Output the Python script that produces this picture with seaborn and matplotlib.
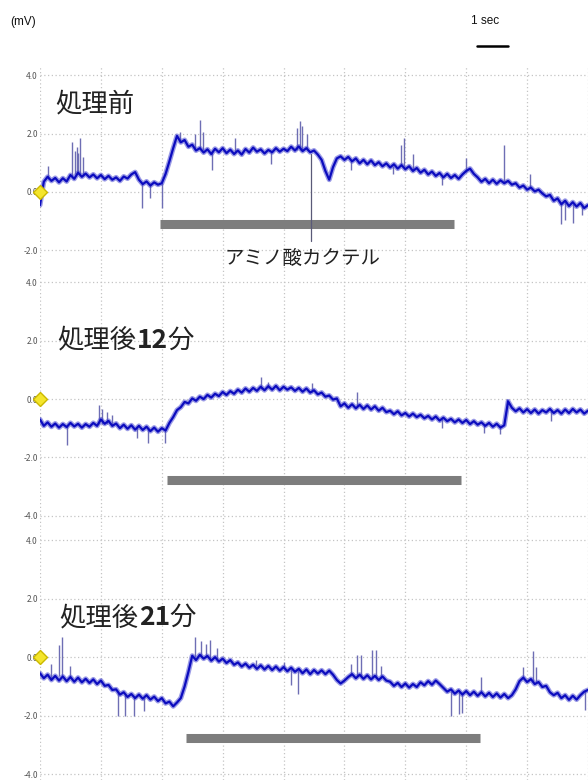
"""アミノ酸カクテル刺激に対する膜電位記録 (処理前 / 処理後12分 / 処理後21分)。"""

import matplotlib.pyplot as plt
import numpy as np
import pandas as pd
import seaborn as sns
from matplotlib.offsetbox import AnnotationBbox, HPacker, TextArea

sns.set_style("white")
plt.rcParams["font.family"] = ["Noto Sans CJK JP", "DejaVu Sans"]

# sample times (s), one value every 0.125 s
time_s = np.arange(145) * 0.125

pre_mv = [
    -0.45, 0.35, 0.52, 0.38, 0.48, 0.33, 0.47, 0.36, 0.58, 0.45, 0.66, 0.52, 0.63, 0.50, 0.60, 0.47,
    0.58, 0.44, 0.55, 0.42, 0.50, 0.38, 0.53, 0.46, 0.60, 0.68, 0.42, 0.27, 0.36, 0.22, 0.33, 0.25,
    0.30, 0.62, 1.05, 1.50, 1.92, 1.70, 1.78, 1.55, 1.62, 1.42, 1.50, 1.35, 1.46, 1.30, 1.48, 1.36,
    1.50, 1.33, 1.45, 1.30, 1.42, 1.28, 1.47, 1.35, 1.52, 1.38, 1.46, 1.32, 1.44, 1.36, 1.50, 1.38,
    1.48, 1.40, 1.55, 1.42, 1.56, 1.40, 1.50, 1.36, 1.42, 1.28, 1.10, 0.72, 0.42, 0.85, 1.15, 1.22,
    1.10, 1.20, 1.05, 1.15, 0.98, 1.10, 0.95, 1.08, 0.92, 1.02, 0.88, 0.98, 0.84, 0.95, 0.80, 0.92,
    0.78, 0.88, 0.72, 0.82, 0.66, 0.76, 0.60, 0.70, 0.55, 0.65, 0.50, 0.62, 0.48, 0.58, 0.45, 0.60,
    0.72, 0.80, 0.62, 0.50, 0.35, 0.45, 0.30, 0.42, 0.28, 0.40, 0.30, 0.38, 0.25, 0.30, 0.15, 0.22,
    0.08, 0.15, 0.02, 0.08, -0.05, -0.15, -0.10, -0.30, -0.22, -0.42, -0.30, -0.48, -0.35, -0.50,
    -0.38, -0.55, -0.45,
]
after12_mv = [
    -0.70, -0.92, -0.80, -0.95, -0.84, -0.98, -0.86, -0.96, -0.82, -0.94, -0.85, -0.98, -0.86, -0.95,
    -0.82, -0.92, -0.70, -0.85, -0.75, -0.92, -0.84, -1.00, -0.88, -1.02, -0.90, -1.05, -0.92, -1.06,
    -0.95, -1.10, -0.98, -1.12, -1.00, -1.08, -0.82, -0.62, -0.38, -0.28, -0.10, -0.15, 0.02, -0.06,
    0.08, 0.00, 0.14, 0.05, 0.18, 0.10, 0.24, 0.14, 0.27, 0.18, 0.32, 0.22, 0.36, 0.25, 0.38, 0.28,
    0.42, 0.30, 0.44, 0.32, 0.45, 0.30, 0.42, 0.32, 0.40, 0.28, 0.38, 0.25, 0.36, 0.22, 0.30, 0.16,
    0.22, 0.08, 0.12, -0.02, 0.02, -0.25, -0.15, -0.30, -0.18, -0.32, -0.20, -0.34, -0.22, -0.36,
    -0.25, -0.40, -0.30, -0.45, -0.40, -0.52, -0.42, -0.56, -0.48, -0.60, -0.50, -0.62, -0.54, -0.66,
    -0.58, -0.70, -0.60, -0.74, -0.64, -0.76, -0.68, -0.80, -0.70, -0.82, -0.72, -0.86, -0.76, -0.88,
    -0.80, -0.92, -0.82, -0.95, -0.85, -0.98, -0.90, -0.08, -0.30, -0.42, -0.32, -0.46, -0.35, -0.48,
    -0.36, -0.50, -0.38, -0.46, -0.34, -0.48, -0.38, -0.50, -0.36, -0.48, -0.34, -0.46, -0.36, -0.50,
    -0.40,
]
after21_mv = [
    -0.55, -0.72, -0.60, -0.78, -0.64, -0.80, -0.66, -0.82, -0.68, -0.84, -0.70, -0.86, -0.74, -0.88,
    -0.76, -0.92, -0.80, -0.98, -0.95, -1.12, -1.10, -1.28, -1.20, -1.36, -1.26, -1.40, -1.28, -1.42,
    -1.30, -1.45, -1.35, -1.50, -1.40, -1.58, -1.52, -1.68, -1.55, -1.40, -1.00, -0.50, 0.05, -0.10,
    0.08, -0.05, 0.04, -0.12, 0.00, -0.15, -0.05, -0.20, -0.10, -0.26, -0.18, -0.32, -0.22, -0.36,
    -0.26, -0.40, -0.28, -0.42, -0.30, -0.44, -0.32, -0.46, -0.34, -0.48, -0.36, -0.50, -0.40, -0.55,
    -0.42, -0.58, -0.44, -0.56, -0.45, -0.58, -0.46, -0.60, -0.78, -0.90, -0.80, -0.68, -0.58, -0.72,
    -0.60, -0.74, -0.62, -0.76, -0.64, -0.78, -0.66, -0.80, -0.84, -0.98, -0.88, -1.02, -0.90, -1.04,
    -0.92, -1.02, -0.86, -0.96, -0.82, -0.94, -0.80, -0.92, -1.05, -1.18, -1.10, -1.25, -1.14, -1.28,
    -1.16, -1.30, -1.18, -1.32, -1.20, -1.34, -1.22, -1.36, -1.24, -1.38, -1.26, -1.40, -1.30, -1.10,
    -0.82, -0.70, -0.85, -0.75, -0.92, -0.85, -1.02, -0.98, -1.20, -1.30, -1.22, -1.40, -1.30, -1.46,
    -1.32, -1.45, -1.30, -1.18, -1.12,
]

# isolated spikes: time (s), trace level, tip (mV)
pre_spike_t = [0.25, 1.05, 1.15, 1.2, 1.25, 1.32, 1.42, 3.35, 3.6, 4.02, 4.6, 5.1, 5.25, 5.35, 5.65,
               6.4, 7.6, 8.45, 8.55, 8.62, 8.78, 10.2, 11.6, 11.85, 11.95, 12.25, 13.2, 14.0, 15.25,
               16.1, 17.1, 17.25, 17.5, 17.8]
pre_spike_base = [0.45, 0.55, 0.6, 0.6, 0.6, 0.6, 0.55, 0.3, 0.3, 0.3, 1.7, 1.5, 1.5, 1.45, 1.4,
                  1.35, 1.4, 1.45, 1.45, 1.45, 1.45, 1.1, 0.9, 0.9, 0.9, 0.75, 0.55, 0.7, 0.35,
                  0.15, -0.35, -0.35, -0.4, -0.4]
pre_spike_tip = [0.9, 1.7, 1.4, 1.55, 1.35, 1.85, 1.2, -0.55, -0.2, -0.55, 2.05, 2.0, 2.47, 2.05, 0.75,
                 1.85, 0.95, 2.2, 2.42, 2.25, 2.0, 0.75, 0.6, 1.6, 1.85, 1.3, 0.25, 1.15, 1.6,
                 0.6, -1.1, -0.95, -1.05, -0.8]

after12_spike_t = [0.9, 1.95, 2.05, 2.2, 2.35, 3.2, 3.55, 4.12, 7.25, 7.5, 8.95, 10.4, 13.2, 14.6,
                   15.1, 15.35, 16.8]
after12_spike_base = [-0.9, -0.85, -0.85, -0.85, -0.9, -0.95, -1.0, -1.05, 0.35, 0.38, 0.25, -0.25,
                      -0.7, -0.85, -0.9, -0.3, -0.4]
after12_spike_tip = [-1.57, -0.2, -0.35, -0.45, -0.55, -1.35, -1.5, -1.5, 0.75, 0.6, 0.55, 0.24,
                     -1.0, -1.15, -1.2, 0.0, -0.75]

after21_spike_t = [0.35, 0.62, 0.72, 1.0, 2.55, 2.8, 3.1, 3.4, 5.1, 5.3, 5.45, 5.6, 5.8, 7.1, 8.0,
                   8.25, 8.46, 10.2, 10.4, 10.55, 10.9, 11.05, 11.2, 13.5, 13.75, 13.85, 14.5,
                   15.85, 16.2, 16.3, 17.9]
after21_spike_base = [-0.7, -0.65, -0.65, -0.7, -1.2, -1.3, -1.35, -1.4, 0.0, 0.0, 0.0, -0.05, -0.05,
                      -0.3, -0.35, -0.4, -0.45, -0.65, -0.65, -0.65, -0.7, -0.7, -0.7, -1.15, -1.2,
                      -1.2, -1.2, -0.75, -0.85, -0.85, -1.15]
after21_spike_tip = [-0.24, 0.4, 0.68, -0.3, -2.0, -2.0, -2.0, -1.85, 0.68, 0.55, 0.45, 0.6, 0.3,
                     -0.1, -0.15, -0.96, -1.26, -0.24, 0.07, 0.07, 0.24, 0.24, -0.3, -2.0, -1.95,
                     -1.9, -0.68, -0.34, 0.2, -0.34, -1.8]

# stimulus bars (アミノ酸カクテル application)
bar_start_s = [3.93, 4.16, 4.79]
bar_end_s = [13.61, 13.84, 14.46]
bar_level_mv = [-1.1, -2.77, -2.76]

title_parts = [
    [("処理前", "normal")],
    [("処理後", "normal"), ("12", "bold"), ("分", "normal")],
    [("処理後", "normal"), ("21", "bold"), ("分", "normal")],
]
title_pos = [(0.49, 3.0), (0.58, 2.02), (0.64, 1.35)]

traces = [pre_mv, after12_mv, after21_mv]
spikes = [
    (pre_spike_t, pre_spike_base, pre_spike_tip),
    (after12_spike_t, after12_spike_base, after12_spike_tip),
    (after21_spike_t, after21_spike_base, after21_spike_tip),
]
yticks = [[4, 2, 0, -2], [4, 2, 0, -2, -4], [4, 2, 0, -2, -4]]

W, H = 588, 780
# (top px, bottom px) and y limits of each panel
panel_px = [(67, 279), (280, 530), (532, 780)]
panel_ylim = [(-2.98, 4.28), (-4.49, 4.08), (-4.2, 4.28)]

fig = plt.figure(figsize=(W / 100, H / 100), dpi=100, facecolor="white")

axes = []
for i in range(3):
    top, bottom = panel_px[i]
    ax = fig.add_axes([40 / W, 1 - bottom / H, 548 / W, (bottom - top) / H])
    axes.append(ax)

    ax.vlines(spikes[i][0], spikes[i][1], spikes[i][2], color="#6e6eb4", linewidth=1.0, zorder=2)
    df = pd.DataFrame({"time": time_s, "mv": traces[i]})
    # soft noise band under the dark core of the trace
    sns.lineplot(data=df, x="time", y="mv", ax=ax, estimator=None, color="#4a4ad2",
                 linewidth=3.6, alpha=0.55, zorder=3)
    sns.lineplot(data=df, x="time", y="mv", ax=ax, estimator=None, color="#0c0cbe",
                 linewidth=1.6, zorder=3)

    ax.plot([bar_start_s[i], bar_end_s[i]], [bar_level_mv[i]] * 2, color="#7d7d7d",
            linewidth=6.5, solid_capstyle="butt", zorder=2)
    ax.plot([0], [0], marker="D", markersize=7.5, markerfacecolor="#f4e52c",
            markeredgecolor="#cbb800", clip_on=False, zorder=6)

    ax.set_xlim(0, 18)
    ax.set_ylim(*panel_ylim[i])
    ax.set_xticks(np.arange(0, 19, 2))
    ax.set_yticks(yticks[i])
    ax.set_yticklabels([f"{v:.1f}" for v in yticks[i]])
    ax.tick_params(axis="x", labelbottom=False, length=0)
    ax.tick_params(axis="y", length=0, pad=1.5, labelsize=6, labelcolor="#555555")
    ax.grid(True, color="#c4c4c4", linestyle=(0, (1, 2)), linewidth=0.9)
    ax.set_xlabel("")
    ax.set_ylabel("")
    for s in ax.spines.values():
        s.set_visible(False)
    ax.patch.set_alpha(0)

    areas = [TextArea(txt, textprops=dict(fontsize=19, fontweight=w, color="#222222"))
             for txt, w in title_parts[i]]
    box = HPacker(children=areas, align="baseline", pad=0, sep=0)
    ab = AnnotationBbox(box, title_pos[i], xycoords="data", box_alignment=(0, 0.5),
                        frameon=False, pad=0)
    ax.add_artist(ab)

# stimulus label with pointer line
ax0 = axes[0]
ax0.plot([8.9, 8.9], [1.3, -1.68], color="#5a5a78", linewidth=0.9, zorder=4)
ax0.text(8.62, -2.27, "アミノ酸カクテル", ha="center", va="center", fontsize=14,
         color="#222222")

# 1 sec scale bar above the top panel
ax0.plot([14.36, 15.36], [5.0, 5.0], color="black", linewidth=1.8, clip_on=False)
fig.text(485 / W, 1 - 21 / H, "1 sec", ha="center", va="center", fontsize=8.5,
         family=["Liberation Sans", "DejaVu Sans"], color="#111111")
fig.text(10 / W, 1 - 22 / H, "(mV)", ha="left", va="center", fontsize=8.5,
         family=["Liberation Sans", "DejaVu Sans"], color="#111111")

fig.savefig("out.png", dpi=100, facecolor="white")
